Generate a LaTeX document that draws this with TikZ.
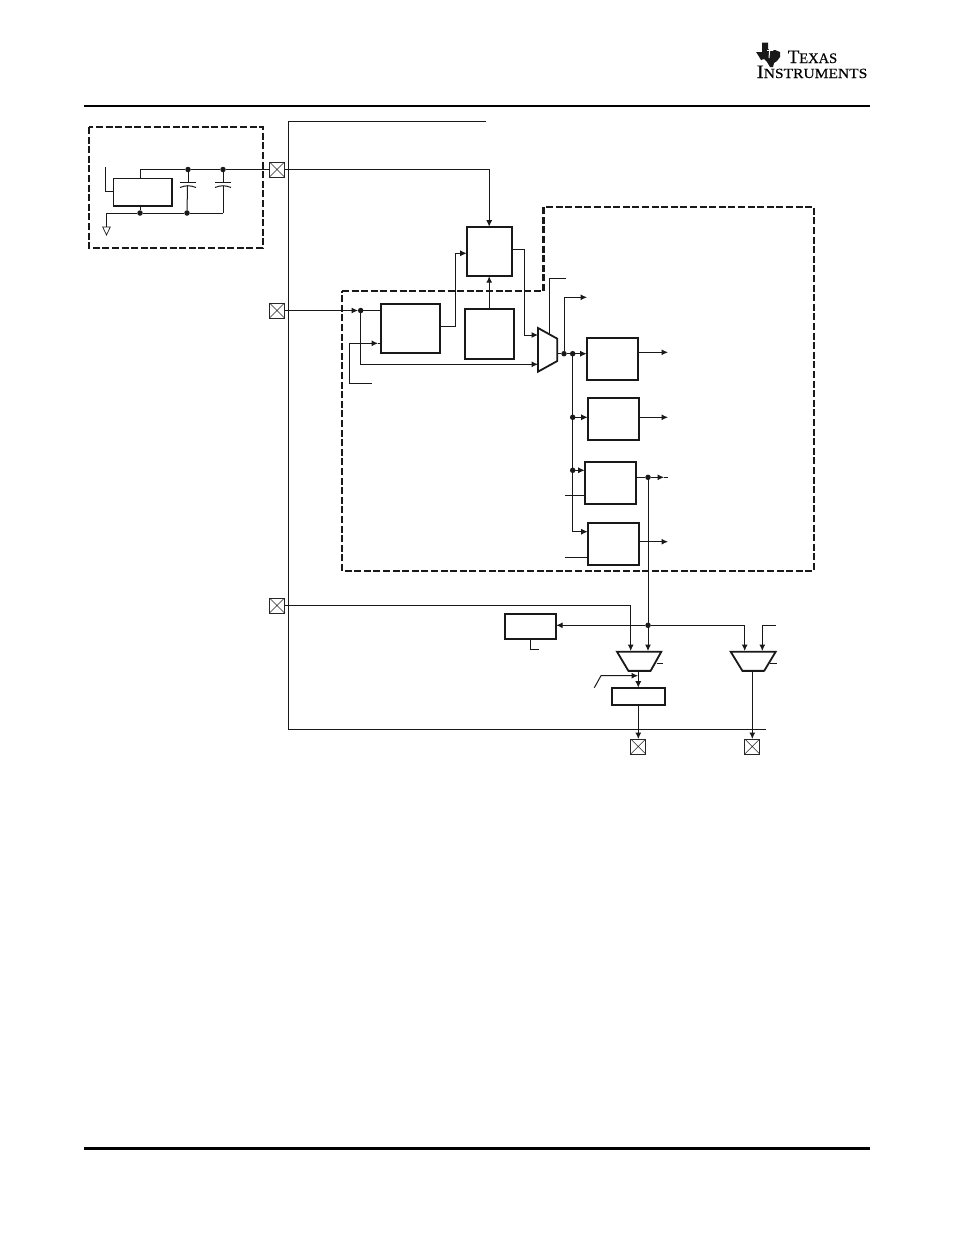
\documentclass[tikz,border=0pt]{standalone}
\usepackage{fontspec}
\setmainfont{Liberation Serif}
\newfontfamily\brandfont[FakeBold=0.35]{Liberation Serif}
\usetikzlibrary{arrows.meta}
\tikzset{
  wire/.style={draw=black!90,line width=1pt},
  arr/.style={wire,-{Latex[length=6.5pt,width=6pt]}},
  blk/.style={draw=black!90,line width=1.8pt,anchor=north west,inner sep=0pt,outer sep=0pt},
  pad/.style={draw=black!85,line width=0.8pt,anchor=north west,inner sep=0pt,outer sep=0pt,minimum size=15pt,
    path picture={\draw[line width=0.6pt] (path picture bounding box.south west) -- (path picture bounding box.north east)
      (path picture bounding box.north west) -- (path picture bounding box.south east);}},
  junction/.style={circle,fill=black!90,inner sep=0pt,outer sep=0pt,minimum size=5.5pt},
  fence/.style={draw=black!90,line width=2.1pt,dash pattern=on 7pt off 2.6pt},
  muxbody/.style={draw=black!90,line width=1.8pt,line join=miter},
}
\begin{document}
\begin{tikzpicture}[x=1pt,y=-1pt]
\useasboundingbox[fill=white] (0,0) rectangle (954,1235);

% page furniture
\draw[line width=2pt] (84,106) -- (870,106);
\draw[line width=3pt] (84,1148) -- (870,1148);

% company mark
\fill[black!90] (762,42.5) -- (768,42.5) -- (768,49) -- (771,51) -- (775,50) -- (780,52) -- (780,57) -- (777,61)
  -- (774,63) -- (773,67) -- (770,67) -- (767,62) -- (764,59) -- (761,60) -- (758,55) -- (756,52) -- (762,52) -- cycle;
\draw[white,line width=1pt] (770,46) -- (769,58);
\draw[white,line width=1pt] (767,50) -- (773,50);
\node[anchor=base west,inner sep=0pt] (brandtop) at (787.5,63)
  {\brandfont\fontsize{19}{19}\selectfont T\fontsize{14.5}{14.5}\selectfont EXAS};
\node[anchor=base west,inner sep=0pt,xscale=1.11,transform shape] (brandlow) at (756.5,78)
  {\brandfont\fontsize{19}{19}\selectfont I\fontsize{14}{14}\selectfont NSTRUMENTS};

% outer bus bracket
\coordinate (bustop) at (486,121);
\coordinate (busbot) at (766,729);
\draw[wire] (bustop) -- (288.5,121) -- (288.5,729) -- (busbot);

% fenced regions
\draw[fence] (89,127) rectangle (263,248);
\draw[fence] (342,291) -- (543.5,291) -- (543.5,207) -- (814,207) -- (814,571) -- (342,571) -- cycle;

% pins
\node[pad] (pinA) at (269.5,162) {};
\node[pad] (pinB) at (269.5,303) {};
\node[pad] (pinC) at (269.5,598) {};
\node[pad] (pinD) at (630.8,739) {};
\node[pad] (pinE) at (744.8,739) {};

% blocks
\node[blk,minimum width=58.5pt,minimum height=27.5pt] (reg) at (113.5,178.5) {};
\node[blk,minimum width=45pt,minimum height=49.5pt] (top) at (466.7,226.7) {};
\node[blk,minimum width=59.5pt,minimum height=49.5pt] (pll) at (380.7,303.7) {};
\node[blk,minimum width=49pt,minimum height=50.5pt] (osc) at (464.7,308.7) {};
\node[blk,minimum width=51.5pt,minimum height=42.5pt] (divA) at (586.7,337.7) {};
\node[blk,minimum width=51.5pt,minimum height=42.5pt] (divB) at (587.7,397.7) {};
\node[blk,minimum width=51.5pt,minimum height=42.5pt] (divC) at (584.7,461.7) {};
\node[blk,minimum width=51.5pt,minimum height=42pt] (divD) at (587.7,523.3) {};
\node[blk,minimum width=51.5pt,minimum height=24.7pt] (syn) at (504.7,614) {};
\node[blk,minimum width=53.5pt,minimum height=17.6pt] (latch) at (611.7,687.7) {};

% regulator network
\node[junction] (capA) at (188,169.5) {};
\node[junction] (capB) at (223,169.5) {};
\node[junction] (gndA) at (140,213) {};
\node[junction] (gndB) at (187,213) {};
\coordinate (capBfoot) at (223,213);
\coordinate (regvin) at (105,167);
\coordinate (gndstub) at (106.5,213);
\coordinate (gndtip) at (106.5,235);
\draw[wire] (reg.north -| gndA) -- (gndA |- capA) -- (capA) -- (capB) -- (pinA.west);
\draw[wire] (regvin) -- (regvin |- 0,191) -- (reg.west |- 0,191);
\draw[wire] (reg.south -| gndA) -- (gndA);
\draw[wire] (gndstub) -- (gndA) -- (gndB) -- (capBfoot);
% two capacitors
\draw[wire] (capA) -- (188,182);
\draw[wire] (180,182) -- (196,182);
\draw[wire] (180,187.5) to[bend left=22] (196,187.5);
\draw[wire] (187.5,185.7) -- (gndB);
\draw[wire] (capB) -- (223,182);
\draw[wire] (215,182) -- (231,182);
\draw[wire] (215,187.5) to[bend left=22] (231,187.5);
\draw[wire] (223,185.7) -- (capBfoot);
% ground symbol
\draw[wire] (gndstub) -- (106.5,227);
\draw[draw=black!90,line width=0.7pt] (102.7,227) -- (110.3,227) -- (gndtip) -- cycle;

% pin feeds
\draw[arr] (pinA.east) -- (top.north |- pinA.east) -- (top.north);
\node[junction] (inJ) at (360.7,310.5) {};
\coordinate (inTip) at (358,310.5);
\draw[arr] (pinB.east) -- (inTip);
\draw[wire] (inTip) -- (inJ) -- (pll.west |- inJ);

% multiplexer into the clock tree
\coordinate (muxNW) at (538,328);
\coordinate (muxNE) at (557.3,338.7);
\coordinate (muxSE) at (557.3,361);
\coordinate (muxSW) at (538,371.7);
\draw[muxbody] (muxNW) -- (muxNE) -- (muxSE) -- (muxSW) -- cycle;
\draw[arr] (inJ) -- (inJ |- 0,364.3) -- (muxNW |- 0,364.3);
\coordinate (fbTip) at (378,343.3);
\coordinate (fbFoot) at (372,383);
\draw[arr] (fbFoot) -- (349.5,383) -- (349.5,343.3) -- (fbTip);
\draw[wire] (fbTip) -- (pll.west |- fbTip);
\draw[arr] (pll.east |- 0,326.3) -- (455.7,326.3) -- (455.7,253.3) -- (top.west |- 0,253.3);
\draw[arr] (osc.north) -- (top.south);
\draw[arr] (top.east |- 0,249.7) -- (524.3,249.7) -- (524.3,335) -- (muxNW |- 0,335);
\draw[wire] (549.3,333.5) -- (549.3,278.7) -- (566,278.7);

% clock tree
\node[junction] (treeA) at (564,353.7) {};
\node[junction] (treeB) at (572.7,353.7) {};
\node[junction] (treeC) at (572.7,417.3) {};
\node[junction] (treeD) at (572.7,470.3) {};
\draw[wire] (557.3,353.7) -- (treeA) -- (treeB);
\draw[arr] (treeB) -- (divA.west |- treeB);
\draw[arr] (treeA) -- (treeA |- 0,297.3) -- (587,297.3);
\draw[wire] (treeB) -- (treeC) -- (treeD);
\draw[arr] (treeD) -- (treeD |- 0,531.7) -- (divD.west |- 0,531.7);
\draw[arr] (treeC) -- (divB.west |- treeC);
\draw[arr] (treeD) -- (divC.west |- treeD);
\draw[arr] (divA.east |- 0,352.3) -- (668,352.3);
\draw[arr] (divB.east |- 0,417.3) -- (668,417.3);
\draw[arr] (divD.east |- 0,541.7) -- (668,541.7);
\node[junction] (divCJ) at (648,477.3) {};
\coordinate (divCtip) at (664,477.3);
\draw[wire] (divC.east |- divCJ) -- (divCJ);
\draw[arr] (divCJ) -- (divCtip);
\draw[wire] (divCtip) -- (668,477.3);
\draw[wire] (565.3,495.3) -- (divC.west |- 0,495.3);
\draw[wire] (565.3,557.3) -- (divD.west |- 0,557.3);

% output multiplexers
\coordinate (mOneNW) at (617,651.7);
\coordinate (mOneNE) at (661.3,651.7);
\coordinate (mOneSE) at (650.7,670.7);
\coordinate (mOneSW) at (628.3,670.7);
\draw[muxbody] (mOneNW) -- (mOneNE) -- (mOneSE) -- (mOneSW) -- cycle;
\draw[line width=2.4pt,draw=black!90] (mOneSW) -- (mOneSE);
\coordinate (mTwoNW) at (730.7,651.7);
\coordinate (mTwoNE) at (775.7,651.7);
\coordinate (mTwoSE) at (764.3,670.7);
\coordinate (mTwoSW) at (742.3,670.7);
\draw[muxbody] (mTwoNW) -- (mTwoNE) -- (mTwoSE) -- (mTwoSW) -- cycle;
\draw[line width=2.4pt,draw=black!90] (mTwoSW) -- (mTwoSE);

% output routing
\node[junction] (busJ) at (648,625.3) {};
\draw[wire] (divCJ) -- (busJ);
\draw[arr] (busJ) -- (648,651);
\draw[arr] (busJ) -- (syn.east |- busJ);
\draw[arr] (busJ) -- (744.7,625.3) -- (744.7,651);
\draw[arr] (776,625.3) -- (762.3,625.3) -- (762.3,651);
\draw[arr] (pinC.east) -- (630.7,605.5) -- (630.7,651);
\draw[wire] (530.3,638.7) -- (530.3,649.3) -- (539,649.3);
\draw[wire] (656.7,663.3) -- (663,663.3);
\draw[wire] (770,663.3) -- (777,663.3);
\draw[arr] (638.3,670.7) -- (638.3,687.7);
\draw[arr] (594.3,687.7) -- (601,675.7) -- (638,675.7);
\draw[arr] (638.3,705.3) -- (pinD.north);
\draw[arr] (752.3,670.7) -- (pinE.north);
\end{tikzpicture}
\end{document}
